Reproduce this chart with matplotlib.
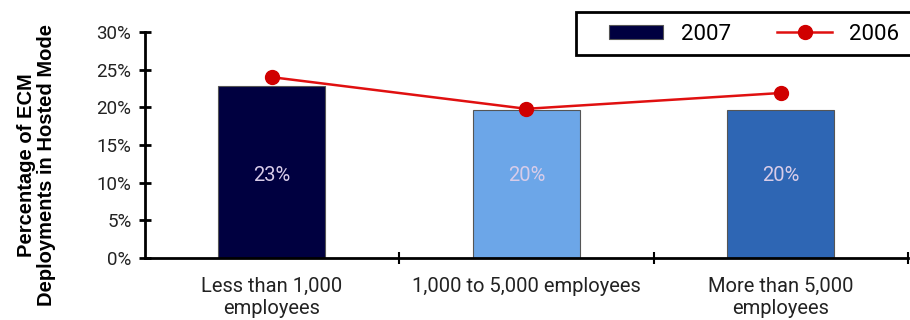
import matplotlib.pyplot as plt
import numpy as np
from matplotlib.patches import Patch, Rectangle
from matplotlib.lines import Line2D

categories = ['Less than 1,000\nemployees', '1,000 to 5,000 employees', 'More than 5,000\nemployees']
values_2007 = [22.8, 19.6, 19.7]
values_2006 = [24.0, 19.8, 21.9]
bar_labels = ['23%', '20%', '20%']
bar_colors = ['#000040', '#6CA6E8', '#2E66B4']

plt.rcParams['font.family'] = ['Roboto', 'DejaVu Sans']

fig = plt.figure(figsize=(9.1, 3.2), dpi=100)
ax = fig.add_axes([0.159, 0.194, 0.839, 0.706])

x = np.arange(len(categories))
ax.bar(x, values_2007, width=0.42, color=bar_colors, edgecolor='#555555',
       linewidth=0.8, zorder=2)
ax.plot(x, values_2006, '-o', color='#E01010', markerfacecolor='#D00000',
        markeredgecolor='#D00000', linewidth=1.8, markersize=10, zorder=3)

for xi, lab in zip(x, bar_labels):
    ax.text(xi, 10.9, lab, ha='center', va='center', color='#D8CCE8', fontsize=14.5)

ax.set_xlim(-0.5, 2.5)
ax.set_ylim(0, 30)
ax.set_yticks(range(0, 31, 5))
ax.set_yticklabels([f'{t}%' for t in range(0, 31, 5)], fontsize=13.5, color='#222222')
ax.set_xticks(x)
ax.set_xticklabels(categories, fontsize=14.5, color='#222222', linespacing=1.2)
ax.set_xticks([0.5, 1.5, 2.5], minor=True)
ax.tick_params(axis='x', which='major', length=0, pad=14)
ax.tick_params(axis='x', which='minor', length=8, width=1.5, direction='inout')
ax.tick_params(axis='y', length=9, width=2, direction='inout', pad=5)

for s in ['top', 'right']:
    ax.spines[s].set_visible(False)
for s in ['left', 'bottom']:
    ax.spines[s].set_linewidth(2)

ax.set_ylabel('Percentage of ECM\nDeployments in Hosted Mode', fontsize=14.5,
              fontweight='bold', family='Liberation Sans', linespacing=1.05,
              va='center')
ax.yaxis.set_label_coords(-0.142, 0.41)

# legend frame drawn separately so horizontal and vertical padding can differ
fig.patches.append(Rectangle((576 / 910, 1 - 55 / 320), 340 / 910, 43 / 320,
                             transform=fig.transFigure, facecolor='white',
                             edgecolor='black', linewidth=2))
handles = [Patch(facecolor=bar_colors[0], edgecolor='#555555', linewidth=0.8),
           Line2D([], [], color='#E01010', marker='o', markerfacecolor='#D00000',
                  markeredgecolor='#D00000', linewidth=1.8, markersize=10)]
leg = fig.legend(handles, ['2007', '2006'], loc='center left',
                 bbox_to_anchor=(609 / 910, 1 - 34 / 320), ncol=2,
                 frameon=False, fontsize=16, handlelength=2.45,
                 handleheight=0.6, columnspacing=2.1, borderpad=0,
                 handletextpad=0.77, borderaxespad=0)

fig.savefig('out.png', dpi=100, facecolor='white')
